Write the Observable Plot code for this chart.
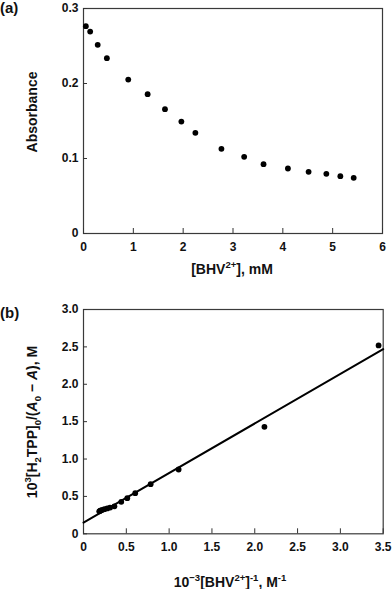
<!DOCTYPE html>
<html><head><meta charset="utf-8">
<script src="https://cdn.jsdelivr.net/npm/d3@7"></script>
<script src="https://cdn.jsdelivr.net/npm/@observablehq/plot@0.6"></script>
<style>
body{margin:0;background:#fff}
#wrap{position:relative;width:392px;height:589px}
#wrap svg{display:block}
</style>
</head><body><div id="wrap"></div>
<script>
// ---- Panel (a): absorbance vs [BHV2+] (mM)
const concA = [0.047, 0.134, 0.285, 0.469, 0.898, 1.287, 1.635, 1.964, 2.245, 2.768, 3.224, 3.613, 4.102, 4.517, 4.873, 5.154, 5.422];
const absA  = [0.2764, 0.2693, 0.2516, 0.2338, 0.2053, 0.1858, 0.1658, 0.1493, 0.1342, 0.1129, 0.1022, 0.0924, 0.0867, 0.0822, 0.0796, 0.0764, 0.0742];
const ticksAX = [0, 1, 2, 3, 4, 5, 6];
const ticksAY = [0, 0.1, 0.2, 0.3];

// ---- Panel (b): double-reciprocal plot
const invB   = [0.184, 0.194, 0.205, 0.221, 0.244, 0.277, 0.310, 0.361, 0.441, 0.511, 0.604, 0.784, 1.111, 2.113, 3.446];
const ratioB = [0.300, 0.308, 0.314, 0.320, 0.330, 0.340, 0.350, 0.368, 0.428, 0.477, 0.544, 0.664, 0.860, 1.431, 2.519];
const fitX = [0, 3.5];
const fitY = [0.15, 2.47];
const ticksBX = [0, 0.5, 1.0, 1.5, 2.0, 2.5, 3.0, 3.5];
const ticksBY = [0, 0.5, 1.0, 1.5, 2.0, 2.5, 3.0];

const FONT = '"Liberation Sans", Arial, Helvetica, sans-serif';
const fmt1 = d => d === 0 ? "0" : d.toFixed(1);
const wrap = document.getElementById("wrap");

function panel({width, height, mt, mr, mb, ml, xDomain, yDomain, xTicks, yTicks, xFmt, yFmt, marks}) {
  const innerW = width - ml - mr, innerH = height - mt - mb;
  return Plot.plot({
    width, height, marginTop: mt, marginRight: mr, marginBottom: mb, marginLeft: ml,
    style: {fontFamily: FONT, fontSize: "12px", fontWeight: "bold", color: "#111", background: "white", overflow: "visible"},
    x: {domain: xDomain},
    y: {domain: yDomain},
    marks: [
      Plot.frame({stroke: "#3a3a3a", strokeWidth: 1.2}),
      Plot.tickX(xTicks, {x: d => d, insetTop: innerH - 5, stroke: "#333", strokeWidth: 1}),
      Plot.tickY(yTicks, {y: d => d, insetRight: innerW - 4, stroke: "#333", strokeWidth: 1}),
      Plot.axisX(xTicks, {tickSize: 0, tickPadding: 8.5, label: null, tickFormat: xFmt}),
      Plot.axisY(yTicks, {tickSize: 0, tickPadding: 5, label: null, tickFormat: yFmt}),
      ...marks
    ]
  });
}

// rich text helper: segments [{t, sub, sup, it}]
function rich(svg, segs, {x, y, rotate = false, size = 14, anchor = "middle"}) {
  const t = d3.select(svg).append("text")
    .attr("font-family", FONT).attr("font-weight", "bold").attr("font-size", size)
    .attr("fill", "#111").attr("text-anchor", anchor);
  if (rotate) t.attr("transform", `translate(${x},${y}) rotate(-90)`).attr("dy", (0.36 * size) + "px");
  else t.attr("x", x).attr("y", y);
  let shift = 0;
  for (const s of segs) {
    const sp = t.append("tspan").text(s.t);
    let target = 0, fs = size;
    if (s.sup) { target = -0.42 * size; fs = size * 0.68; }
    if (s.sub) { target = 0.25 * size; fs = size * 0.68; }
    sp.attr("font-size", fs);
    if (s.it) sp.attr("font-style", "italic");
    if (target - shift !== 0) sp.attr("dy", (target - shift) + "px");
    if (rotate && segs.indexOf(s) === 0) sp.attr("dy", ((target - shift) + 0.36 * size) + "px");
    shift = target;
  }
  return t;
}

// Panel (a)
const svgA = panel({
  width: 392, height: 290, mt: 8, mr: 10, mb: 57, ml: 83,
  xDomain: [0, 6], yDomain: [0, 0.3], xTicks: ticksAX, yTicks: ticksAY,
  xFmt: d => String(d), yFmt: fmt1,
  marks: [Plot.dot(concA.map((c, i) => ({c, a: absA[i]})), {x: "c", y: "a", r: 2.9, fill: "#000", stroke: null})]
});
wrap.appendChild(svgA);
rich(svgA, [{t: "(a)"}], {x: 0, y: 13, size: 15, anchor: "start"});
rich(svgA, [{t: "Absorbance"}], {x: 32, y: 112, rotate: true});
rich(svgA, [{t: "[BHV"}, {t: "2+", sup: true}, {t: "], mM"}], {x: 232, y: 274});

// Panel (b)
const svgB = panel({
  width: 392, height: 299, mt: 19, mr: 9.3, mb: 55.7, ml: 83,
  xDomain: [0, 3.5], yDomain: [0, 3.0], xTicks: ticksBX, yTicks: ticksBY,
  xFmt: fmt1, yFmt: fmt1,
  marks: [
    Plot.line(fitX.map((x, i) => ({x, y: fitY[i]})), {x: "x", y: "y", stroke: "#000", strokeWidth: 2}),
    Plot.dot(invB.map((v, i) => ({v, r: ratioB[i]})), {x: "v", y: "r", r: 2.9, fill: "#000", stroke: null})
  ]
});
wrap.appendChild(svgB);
rich(svgB, [{t: "(b)"}], {x: 0, y: 28, size: 15, anchor: "start"});
rich(svgB, [{t: "10"}, {t: "3", sup: true}, {t: "[H"}, {t: "2", sub: true}, {t: "TPP]"}, {t: "0", sub: true},
  {t: "/("}, {t: "A", it: true}, {t: "0", sub: true}, {t: " \u2212 "}, {t: "A", it: true}, {t: "), M"}],
  {x: 32, y: 132, rotate: true});
rich(svgB, [{t: "10"}, {t: "\u22123", sup: true}, {t: "[BHV"}, {t: "2+", sup: true}, {t: "]"}, {t: "-1", sup: true},
  {t: ", M"}, {t: "-1", sup: true}], {x: 230, y: 296.5});
</script>
</body></html>
